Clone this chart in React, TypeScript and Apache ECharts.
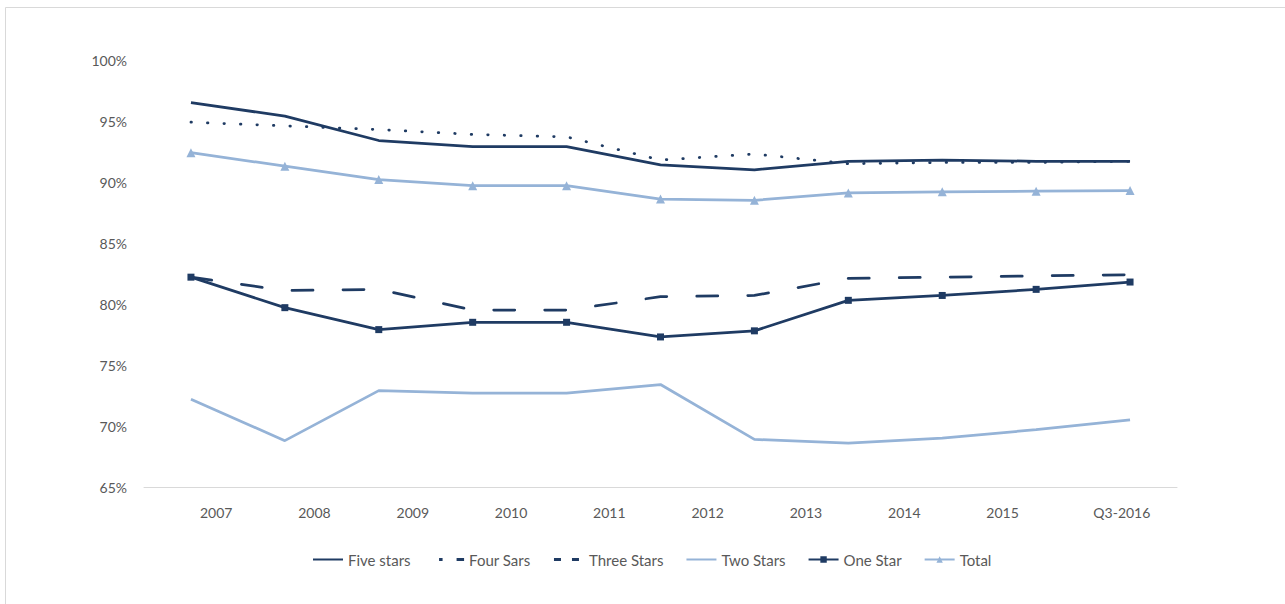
import React, { useEffect, useRef } from 'react';
import * as echarts from 'echarts';

// Tick labels shown under the chart (10 labels, as in the reference)
const tickLabels = ['2007', '2008', '2009', '2010', '2011', '2012', '2013', '2014', '2015', 'Q3-2016'];
// The plotted series have 11 observation slots (unlabelled on the axis)
const pointSlots = ['1', '2', '3', '4', '5', '6', '7', '8', '9', '10', '11'];

// Values in percent
const fiveStars = [96.5, 95.4, 93.4, 92.9, 92.9, 91.4, 91.0, 91.7, 91.8, 91.7, 91.7];
const fourSars = [94.9, 94.6, 94.3, 93.9, 93.7, 91.8, 92.3, 91.5, 91.6, 91.6, 91.7];
const threeStars = [82.2, 81.1, 81.2, 79.5, 79.5, 80.6, 80.7, 82.1, 82.2, 82.3, 82.4];
const twoStars = [72.2, 68.8, 72.9, 72.7, 72.7, 73.4, 68.9, 68.6, 69.0, 69.7, 70.5];
const oneStar = [82.2, 79.7, 77.9, 78.5, 78.5, 77.3, 77.8, 80.3, 80.7, 81.2, 81.8];
const total = [92.4, 91.3, 90.2, 89.7, 89.7, 88.6, 88.5, 89.1, 89.2, 89.25, 89.3];

const legendNames = ['Five stars', 'Four Sars', 'Three Stars', 'Two Stars', 'One Star', 'Total'];

const yMin = 65;
const yMax = 100;
const yStep = 5;

const DARK = '#1F3B63';
const LIGHT = '#95B3D7';
const TEXT = '#595959';
const NONE = 'rgba(0,0,0,0)';
const FONT = 'Lato, "Open Sans", sans-serif';

export default function App() {
  const ref = useRef<HTMLDivElement>(null);

  useEffect(() => {
    document.body.style.margin = '0';
    if (!ref.current) return;
    const chart = echarts.init(ref.current, null, { renderer: 'svg' });
    const lastLabel = tickLabels[tickLabels.length - 1];
    chart.setOption({
      animation: false,
      backgroundColor: '#ffffff',
      textStyle: { fontFamily: FONT },
      graphic: [
        {
          type: 'rect',
          shape: { x: 5.5, y: 7.5, width: 1400, height: 800 },
          style: { fill: 'none', stroke: '#d9d9d9', lineWidth: 1 },
          silent: true,
          z: -10,
        },
      ],
      grid: [
        { left: 144, right: 108, top: 60, bottom: 117 },
        { left: 167, right: 135, top: 60, bottom: 117 },
      ],
      xAxis: [
        {
          type: 'category',
          gridIndex: 0,
          data: pointSlots,
          boundaryGap: true,
          axisLine: { show: true, lineStyle: { color: '#d9d9d9', width: 1 } },
          axisTick: { show: false },
          axisLabel: { show: false },
          splitLine: { show: false },
        },
        {
          type: 'category',
          gridIndex: 1,
          data: tickLabels,
          boundaryGap: true,
          axisLine: { show: false },
          axisTick: { show: false },
          splitLine: { show: false },
          axisLabel: {
            show: true,
            interval: 0,
            margin: 18,
            color: TEXT,
            fontSize: 14,
            fontFamily: FONT,
            formatter: (v: string) => (v === lastLabel ? '{last|' + v + '}' : v),
            rich: {
              last: { color: TEXT, fontSize: 14, fontFamily: FONT, padding: [0, 0, 4, 42] },
            },
          },
        },
      ],
      yAxis: [
        {
          type: 'value',
          gridIndex: 0,
          min: yMin,
          max: yMax,
          interval: yStep,
          axisLine: { show: false },
          axisTick: { show: false },
          splitLine: { show: false },
          axisLabel: {
            margin: 17,
            color: TEXT,
            fontSize: 14,
            fontFamily: FONT,
            formatter: '{value}%',
          },
        },
        {
          type: 'value',
          gridIndex: 1,
          min: yMin,
          max: yMax,
          interval: yStep,
          show: false,
        },
      ],
      legend: {
        top: 547,
        left: 307,
        itemWidth: 30,
        itemHeight: 8,
        itemGap: 22,
        textStyle: { color: TEXT, fontSize: 15, fontFamily: FONT },
        data: [
          { name: legendNames[0] },
          {
            name: legendNames[1],
            lineStyle: { type: [0, 5, 3.5, 14, 9, 100], cap: 'butt', width: 3 },
          },
          {
            name: legendNames[2],
            lineStyle: { type: [7, 11], cap: 'butt', width: 3 },
          },
          { name: legendNames[3] },
          { name: legendNames[4] },
          { name: legendNames[5] },
        ],
      },
      series: [
        {
          name: legendNames[3],
          type: 'line',
          data: twoStars,
          symbol: 'none',
          lineStyle: { color: LIGHT, width: 2.75 },
          itemStyle: { color: NONE },
          z: 2,
        },
        {
          name: legendNames[5],
          type: 'line',
          data: total,
          symbol: 'triangle',
          symbolSize: 9,
          lineStyle: { color: LIGHT, width: 2.75 },
          itemStyle: { color: LIGHT },
          z: 3,
        },
        {
          name: legendNames[2],
          type: 'line',
          data: threeStars,
          symbol: 'none',
          lineStyle: { color: DARK, width: 2.75, type: [21, 30], cap: 'round' },
          itemStyle: { color: NONE },
          z: 4,
        },
        {
          name: legendNames[4],
          type: 'line',
          data: oneStar,
          symbol: 'rect',
          symbolSize: 7,
          lineStyle: { color: DARK, width: 2.75 },
          itemStyle: { color: DARK },
          z: 5,
        },
        {
          name: legendNames[1],
          type: 'line',
          data: fourSars,
          symbol: 'none',
          lineStyle: { color: DARK, width: 2.75, type: [0.5, 16], cap: 'round' },
          itemStyle: { color: NONE },
          z: 6,
        },
        {
          name: legendNames[0],
          type: 'line',
          data: fiveStars,
          symbol: 'none',
          lineStyle: { color: DARK, width: 2.75 },
          itemStyle: { color: NONE },
          z: 7,
        },
      ],
    });
    return () => chart.dispose();
  }, []);

  return <div ref={ref} style={{ width: 1285, height: 604 }} />;
}
